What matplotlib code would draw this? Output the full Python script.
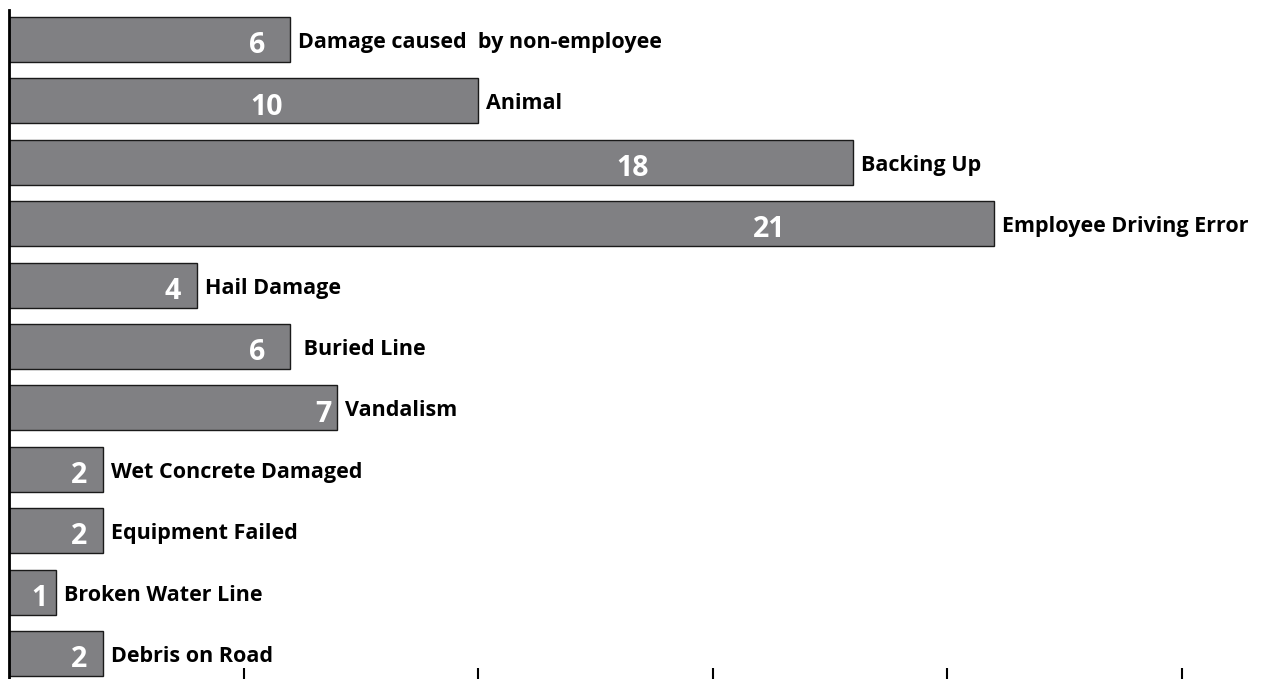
import matplotlib.pyplot as plt

categories = ["Damage caused  by non-employee", "Animal", "Backing Up",
              "Employee Driving Error", "Hail Damage", " Buried Line",
              "Vandalism", "Wet Concrete Damaged", "Equipment Failed",
              "Broken Water Line", "Debris on Road"]
counts = [6, 10, 18, 21, 4, 6, 7, 2, 2, 1, 2]
# where the white number sits inside each bar (data units)
number_x = [5.3, 5.5, 13.3, 16.2, 3.5, 5.3, 6.7, 1.5, 1.5, 0.66, 1.5]

plt.rcParams['font.family'] = ['Open Sans', 'DejaVu Sans']

fig = plt.figure(figsize=(12.82, 6.79), dpi=100)
ax = fig.add_axes([9 / 1282, 0, 1273 / 1282, 669 / 679])

y = list(range(len(counts)))
ax.barh(y, counts, height=0.73, color='#808083', edgecolor='#1a1a1a', linewidth=1.0)

for i, (c, lab, nx) in enumerate(zip(counts, categories, number_x)):
    ax.text(nx, i + 0.1, str(c), color='white', fontsize=20.5, fontweight='bold',
            ha='center', va='center')
    ax.text(c + 0.17, i + 0.05, lab, color='black', fontsize=15.5, fontweight='bold',
            ha='left', va='center')

ax.set_xlim(0, 27.14)
ax.set_ylim(10.415, -0.48)
ax.set_xticks([5, 10, 15, 20, 25])
ax.set_xticklabels([])
ax.set_yticks([])
ax.tick_params(axis='x', direction='in', length=8, width=1.5, color='black')
for s in ['top', 'right', 'bottom']:
    ax.spines[s].set_visible(False)
ax.spines['left'].set_linewidth(2)

fig.savefig('out.png', dpi=100)
